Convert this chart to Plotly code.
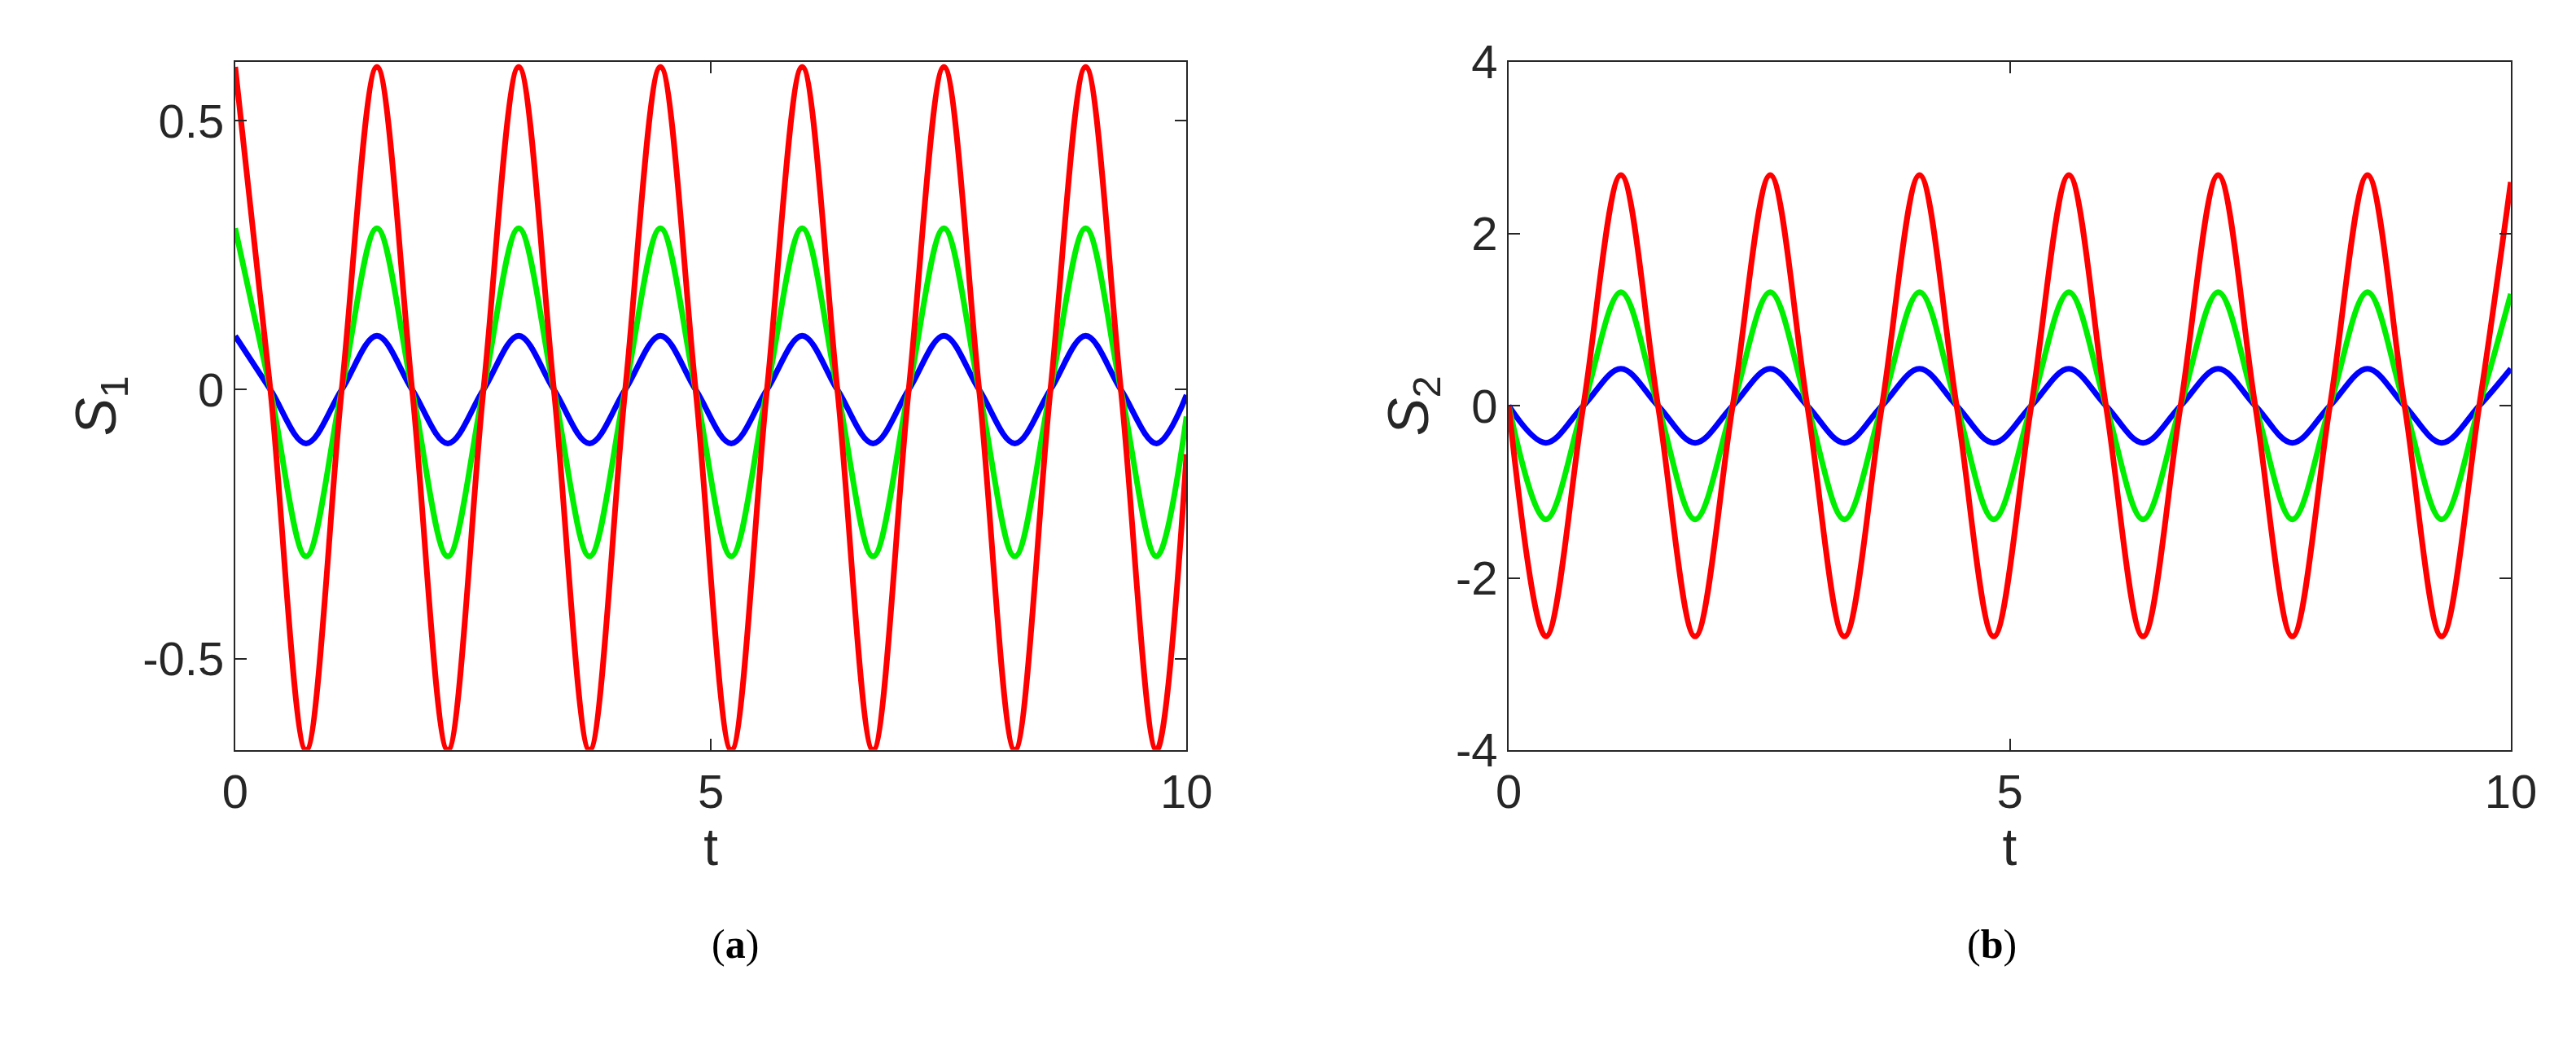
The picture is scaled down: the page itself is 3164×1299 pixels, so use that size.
import plotly.graph_objects as go

# time samples (extrema and zero crossings)
t = [0, 0.37, 0.745, 1.12, 1.49, 1.86, 2.235, 2.61, 2.98, 3.35, 3.725, 4.1, 4.47, 4.84,
     5.215, 5.59, 5.96, 6.33, 6.705, 7.08, 7.45, 7.82, 8.195, 8.57, 8.94, 9.31, 9.685, 10]

# panel (a): S1
s1_red = [0.6, 0, -0.67, 0] * 6 + [0.6, 0, -0.67, -0.12]
s1_green = [0.3, 0, -0.31, 0] * 6 + [0.3, 0, -0.31, -0.05]
s1_blue = [0.1, 0, -0.1, 0] * 6 + [0.1, 0, -0.1, -0.01]

# panel (b): S2
s2_red = [0, -2.68, 0, 2.68] * 6 + [0, -2.68, 0, 2.6]
s2_green = [0, -1.32, 0, 1.32] * 6 + [0, -1.32, 0, 1.3]
s2_blue = [0, -0.43, 0, 0.43] * 6 + [0, -0.43, 0, 0.43]

FONT = "Liberation Sans"
fig = go.Figure()

for ys, xa, ya in [((s1_blue, s1_green, s1_red), "x", "y"), ((s2_blue, s2_green, s2_red), "x2", "y2")]:
    for y, c in zip(ys, ["#0000ff", "#00ee00", "#ff0000"]):
        fig.add_trace(go.Scatter(x=t, y=y, mode="lines", xaxis=xa, yaxis=ya,
                                 line=dict(color=c, width=7, shape="spline", smoothing=1.0),
                                 showlegend=False))

axis_common = dict(showline=True, mirror="ticks", linecolor="#262626", linewidth=2,
                   ticks="inside", ticklen=14, tickwidth=2, tickcolor="#262626",
                   showgrid=False, zeroline=False, tickfont=dict(size=58, color="#262626"))

fig.update_layout(
    width=3164, height=1299, paper_bgcolor="white", plot_bgcolor="white",
    font=dict(family=FONT, color="#262626"),
    margin=dict(l=0, r=0, t=0, b=0),
    xaxis=dict(domain=[0.085, 0.46], range=[0, 10], tickvals=[0, 5, 10],
               title=dict(text="t", font=dict(size=64), standoff=10), **axis_common),
    yaxis=dict(domain=[0.287, 0.972], range=[-0.67, 0.61], tickvals=[-0.5, 0, 0.5],
               ticktext=["-0.5", "0", "0.5"],
               title=dict(text="<i>S</i><sub>1</sub>", font=dict(size=70), standoff=10), **axis_common),
    xaxis2=dict(domain=[0.587, 0.982], range=[0, 10], tickvals=[0, 5, 10], anchor="y2",
                title=dict(text="t", font=dict(size=64), standoff=10), **axis_common),
    yaxis2=dict(domain=[0.287, 0.972], range=[-4, 4], tickvals=[-4, -2, 0, 2, 4], anchor="x2",
                ticktext=["-4", "-2", "0", "2", "4"],
                title=dict(text="<i>S</i><sub>2</sub>", font=dict(size=70), standoff=10), **axis_common),
    annotations=[
        dict(text="(<b>a</b>)", x=0.272, y=0.07, xref="paper", yref="paper", showarrow=False,
             font=dict(family="Liberation Serif", size=50, color="black")),
        dict(text="(<b>b</b>)", x=0.788, y=0.07, xref="paper", yref="paper", showarrow=False,
             font=dict(family="Liberation Serif", size=50, color="black")),
    ],
)

fig.write_html("out.html")
